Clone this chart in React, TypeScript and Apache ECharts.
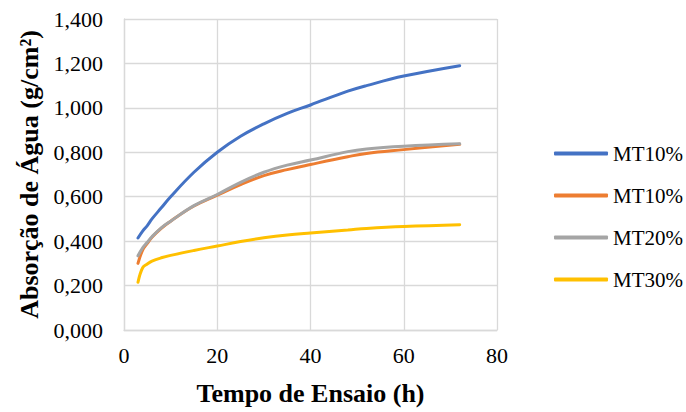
import React, { useEffect, useRef } from "react";
import * as echarts from "echarts";

const hours = [3, 4, 5, 6, 8, 10, 15, 20, 25, 30, 35, 40, 48, 52, 60, 72];
const seriesNames = ["MT10%", "MT10%", "MT20%", "MT30%"];
const mt10a = [0.414, 0.445, 0.47, 0.5, 0.55, 0.6, 0.71, 0.8, 0.872, 0.928, 0.975, 1.013, 1.075, 1.1, 1.143, 1.19];
const mt10b = [0.3, 0.36, 0.39, 0.418, 0.458, 0.49, 0.558, 0.607, 0.655, 0.695, 0.722, 0.745, 0.78, 0.795, 0.812, 0.836];
const mt20 = [0.334, 0.37, 0.395, 0.42, 0.46, 0.49, 0.56, 0.61, 0.665, 0.71, 0.742, 0.765, 0.803, 0.815, 0.827, 0.838];
const mt30 = [0.215, 0.28, 0.297, 0.31, 0.325, 0.336, 0.358, 0.378, 0.398, 0.415, 0.428, 0.437, 0.45, 0.457, 0.466, 0.474];
const colors = ["#4472C4", "#ED7D31", "#A5A5A5", "#FFC000"];

export default function App() {
  const ref = useRef<HTMLDivElement>(null);
  useEffect(() => {
    if (!ref.current) return;
    const chart = echarts.init(ref.current, null, { renderer: "svg" });
    const all = [mt10a, mt10b, mt20, mt30];
    const font = "Liberation Serif";
    const legendNames = seriesNames.map((n, i) => n + (i === 1 ? " " : ""));
    chart.setOption({
      animation: false,
      textStyle: { fontFamily: font },
      grid: { left: 124, right: 189, top: 19, bottom: 82 },
      legend: {
        orient: "vertical",
        left: 549,
        top: 137,
        itemWidth: 54,
        itemHeight: 4,
        itemGap: 19,
        icon: "roundRect",
        textStyle: { fontFamily: font, fontSize: 21, color: "#000", lineHeight: 23 },
        data: legendNames.map((n, i) => ({ name: n, itemStyle: { color: colors[i] } })),
        formatter: (n: string) => n.trim(),
      },
      xAxis: {
        type: "value",
        min: 0,
        max: 80,
        interval: 20,
        name: "Tempo de Ensaio (h)",
        nameLocation: "middle",
        nameGap: 50,
        nameTextStyle: { fontFamily: font, fontSize: 26, fontWeight: "bold", color: "#000" },
        axisLine: { show: true, lineStyle: { color: "#D9D9D9", width: 1.3 } },
        axisTick: { show: false },
        axisLabel: { fontFamily: font, fontSize: 22, color: "#000", margin: 14 },
        splitLine: { show: true, lineStyle: { color: "#D9D9D9", width: 1.3 } },
      },
      yAxis: {
        type: "value",
        min: 0,
        max: 1.4,
        interval: 0.2,
        name: "Absorção de Água (g/cm²)",
        nameLocation: "middle",
        nameGap: 80,
        nameTextStyle: { fontFamily: font, fontSize: 26, fontWeight: "bold", color: "#000" },
        axisLine: { show: true, lineStyle: { color: "#D9D9D9", width: 1.3 } },
        axisTick: { show: false },
        axisLabel: {
          fontFamily: font,
          fontSize: 22,
          color: "#000",
          margin: 21,
          formatter: (v: number) => v.toFixed(3).replace(".", ","),
        },
        splitLine: { show: true, lineStyle: { color: "#D9D9D9", width: 1.3 } },
      },
      series: all.map((vals, i) => ({
        name: legendNames[i],
        type: "line",
        smooth: 0.4,
        showSymbol: false,
        symbol: "none",
        color: colors[i],
        lineStyle: { color: colors[i], width: 3, cap: "round" },
        data: hours.map((h, j) => [h, vals[j]]),
      })),
    });
    return () => chart.dispose();
  }, []);
  return <div ref={ref} style={{ width: 686, height: 412, position: "absolute", left: 0, top: 0 }} />;
}
